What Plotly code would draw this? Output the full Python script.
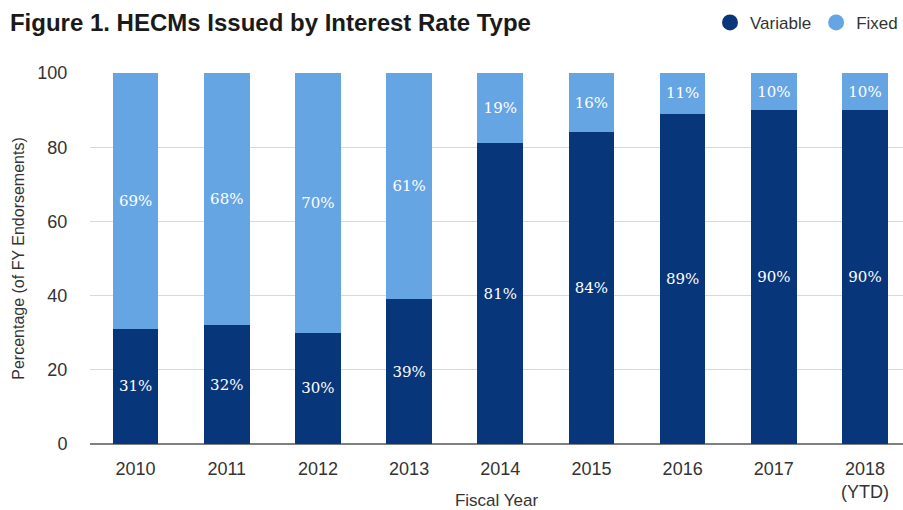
import plotly.graph_objects as go

years = ["2010", "2011", "2012", "2013", "2014", "2015", "2016", "2017", "2018<br>(YTD)"]
variable = [31, 32, 30, 39, 81, 84, 89, 90, 90]
fixed = [69, 68, 70, 61, 19, 16, 11, 10, 10]

DARK = "#07367A"
LIGHT = "#66A5E4"
xpos = list(range(len(years)))

fig = go.Figure()
fig.add_trace(go.Bar(x=xpos, y=variable, name="Variable", marker=dict(color=DARK, line=dict(width=0)),
                     text=[f"{v}%" for v in variable], textposition="inside", insidetextanchor="middle",
                     textfont=dict(color="white", size=15, family="DejaVu Serif"), showlegend=False,
                     hoverinfo="skip"))
fig.add_trace(go.Bar(x=xpos, y=fixed, name="Fixed", marker=dict(color=LIGHT, line=dict(width=0)),
                     text=[f"{v}%" for v in fixed], textposition="inside", insidetextanchor="middle",
                     textfont=dict(color="white", size=15, family="DejaVu Serif"), showlegend=False,
                     hoverinfo="skip"))
# legend entries with circle markers
fig.add_trace(go.Scatter(x=[None], y=[None], mode="markers", name="Variable",
                         marker=dict(color=DARK, size=18, symbol="circle")))
fig.add_trace(go.Scatter(x=[None], y=[None], mode="markers", name="Fixed",
                         marker=dict(color=LIGHT, size=18, symbol="circle")))

fig.update_layout(
    width=903, height=510,
    barmode="stack", bargap=0.5,
    margin=dict(l=90, r=0, t=73, b=66),
    plot_bgcolor="white", paper_bgcolor="white",
    uniformtext=dict(minsize=8, mode="show"),
    title=dict(text="<b>Figure 1. HECMs Issued by Interest Rate Type</b>",
               x=0.011, xanchor="left", y=0.955, yanchor="middle",
               font=dict(family="Liberation Sans, Arial, sans-serif", size=24, color="#1a1a1a")),
    legend=dict(orientation="h", x=1.0, xanchor="right", y=1.135, yanchor="middle",
                traceorder="normal",
                font=dict(family="Liberation Sans, sans-serif", size=17, color="#333333"),
                itemwidth=30, tracegroupgap=0, bgcolor="rgba(0,0,0,0)"),
    xaxis=dict(tickmode="array", tickvals=xpos, ticktext=years, range=[-0.5, 8.417],
               automargin=False,
               showgrid=False, zeroline=False, showline=False,
               ticks="outside", ticklen=8, tickcolor="rgba(0,0,0,0)",
               tickfont=dict(family="Liberation Sans, sans-serif", size=18, color="#333333"),
               title=dict(text="Fiscal Year", standoff=8,
                          font=dict(family="Liberation Sans, sans-serif", size=17, color="#333333"))),
    yaxis=dict(range=[0, 100], tickvals=[0, 20, 40, 60, 80, 100], showgrid=True, gridcolor="#d9d9d9",
               automargin=False,
               gridwidth=1.2, zeroline=True, zerolinecolor="#808080", zerolinewidth=2,
               ticks="outside", ticklen=18, tickcolor="rgba(0,0,0,0)",
               tickfont=dict(family="Liberation Sans, Arial, sans-serif", size=18, color="#333333"),
               title=dict(text="Percentage (of FY Endorsements)", standoff=8,
                          font=dict(family="Liberation Sans, Arial, sans-serif", size=16, color="#333333"))),
)

fig.write_html("out.html")
